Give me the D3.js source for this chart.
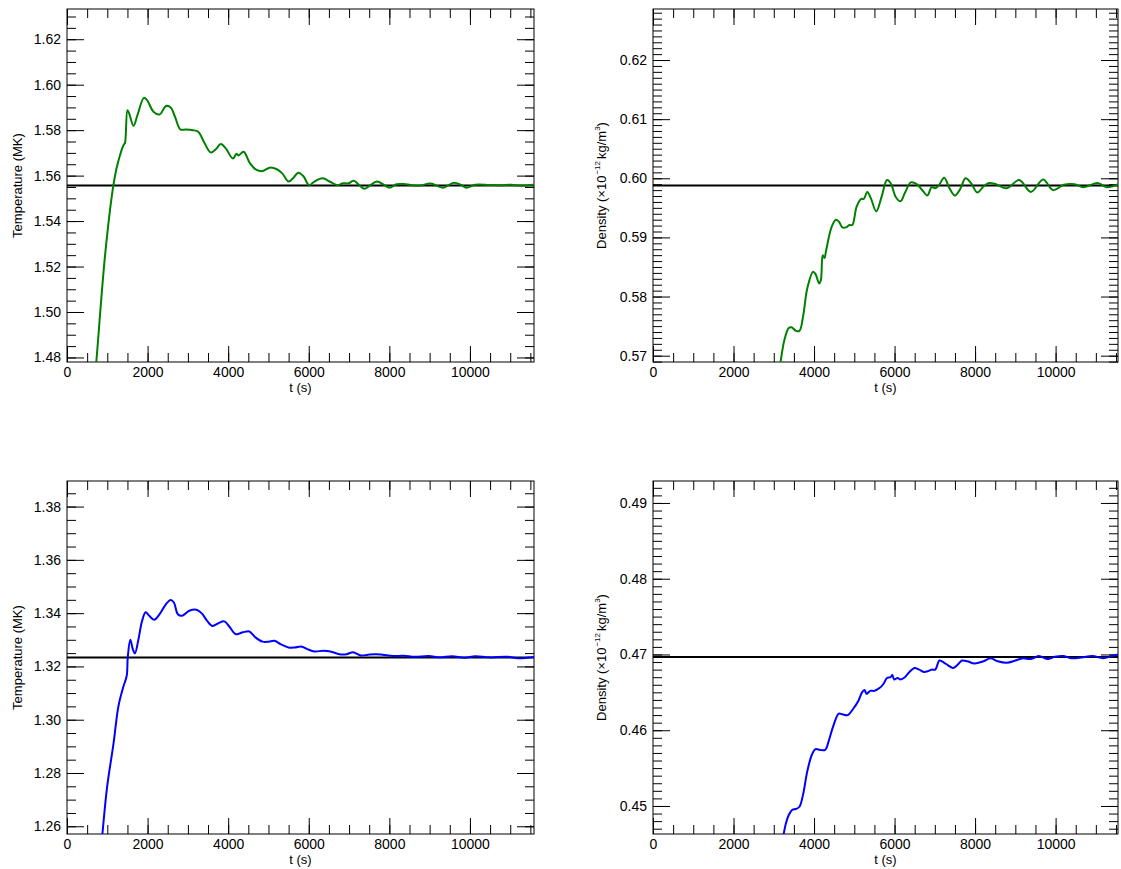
<!DOCTYPE html>
<html><head><meta charset="utf-8">
<script src="https://cdn.jsdelivr.net/npm/d3@7"></script>
<style>
html,body{margin:0;padding:0;background:#fff;}
svg text{font-family:"Liberation Sans",Arial,Helvetica,sans-serif;fill:#000;}
</style></head>
<body>
<svg id="chart" width="1121" height="869"></svg>
<script>
// ---------- data ----------
const xMajorTicks = [0, 2000, 4000, 6000, 8000, 10000];

// Top-left: temperature (green)
const tTempA = [600, 728, 950, 1153, 1260, 1411, 1437, 1500, 1544, 1650, 1748, 1908, 1988, 2147, 2298, 2458, 2573, 2680, 2813, 2946, 3123, 3256, 3416, 3567, 3700, 3815, 3940, 4117, 4206, 4260, 4383, 4543, 4703, 4854, 5031, 5208, 5342, 5501, 5608, 5741, 5874, 6007, 6140, 6344, 6540, 6717, 6850, 6983, 7116, 7249, 7382, 7515, 7693, 7870, 8004, 8181, 8358, 8536, 8758, 9024, 9335, 9601, 9778, 9911, 10133, 10488, 10754, 11020, 11287, 11606];
const vTempA = [1.4520, 1.4782, 1.5259, 1.5559, 1.5654, 1.5737, 1.5742, 1.5888, 1.5873, 1.5819, 1.5866, 1.5942, 1.5932, 1.5881, 1.5869, 1.5906, 1.5900, 1.5859, 1.5803, 1.5803, 1.5800, 1.5793, 1.5742, 1.5702, 1.5717, 1.5739, 1.5720, 1.5675, 1.5696, 1.5689, 1.5705, 1.5654, 1.5625, 1.5620, 1.5635, 1.5628, 1.5610, 1.5574, 1.5588, 1.5613, 1.5596, 1.5558, 1.5574, 1.5588, 1.5572, 1.5558, 1.5566, 1.5566, 1.5577, 1.5559, 1.5542, 1.5556, 1.5574, 1.5559, 1.5547, 1.5562, 1.5563, 1.5558, 1.5556, 1.5565, 1.5547, 1.5569, 1.5559, 1.5547, 1.5560, 1.5559, 1.5558, 1.5560, 1.5556, 1.5560];
const refTempA = 1.5557;
const yTicksTempA = [1.48, 1.50, 1.52, 1.54, 1.56, 1.58, 1.60, 1.62];

// Top-right: density (green)
const tDensA = [3050, 3168, 3265, 3372, 3443, 3549, 3638, 3727, 3833, 3975, 4037, 4126, 4170, 4215, 4259, 4303, 4437, 4543, 4614, 4703, 4791, 4880, 4951, 5058, 5173, 5235, 5324, 5413, 5546, 5679, 5812, 5901, 6034, 6149, 6256, 6407, 6549, 6700, 6815, 6921, 7010, 7099, 7232, 7365, 7498, 7631, 7764, 7897, 8057, 8208, 8341, 8518, 8784, 9095, 9388, 9690, 9938, 10204, 10470, 10692, 11047, 11269, 11562];
const vDensA = [0.5630, 0.5689, 0.5727, 0.5747, 0.5748, 0.5742, 0.5742, 0.5766, 0.5814, 0.5842, 0.5838, 0.5822, 0.5828, 0.5870, 0.5865, 0.5879, 0.5918, 0.5930, 0.5927, 0.5917, 0.5917, 0.5921, 0.5921, 0.5952, 0.5965, 0.5965, 0.5977, 0.5966, 0.5944, 0.5969, 0.5997, 0.5992, 0.5968, 0.5961, 0.5975, 0.5993, 0.5990, 0.5979, 0.5971, 0.5985, 0.5983, 0.5988, 0.6001, 0.5983, 0.5971, 0.5982, 0.6000, 0.5992, 0.5976, 0.5986, 0.5992, 0.5990, 0.5983, 0.5997, 0.5977, 0.5998, 0.5980, 0.5989, 0.5990, 0.5985, 0.5992, 0.5985, 0.5990];
const refDensA = 0.59876;
const yTicksDensA = [0.57, 0.58, 0.59, 0.60, 0.61, 0.62];

// Bottom-left: temperature (blue)
const tTempB = [800, 878, 994, 1153, 1278, 1393, 1482, 1508, 1571, 1633, 1686, 1766, 1864, 1952, 2041, 2165, 2298, 2458, 2573, 2653, 2751, 2857, 3035, 3212, 3345, 3478, 3611, 3744, 3904, 4028, 4188, 4366, 4526, 4676, 4854, 5004, 5146, 5297, 5501, 5652, 5812, 5963, 6140, 6362, 6540, 6761, 6939, 7098, 7294, 7471, 7649, 7826, 8092, 8358, 8625, 8980, 9246, 9556, 9867, 10133, 10488, 10932, 11198, 11606];
const vTempB = [1.2450, 1.2571, 1.2746, 1.2909, 1.3052, 1.3121, 1.3165, 1.3234, 1.3300, 1.3265, 1.3249, 1.3296, 1.3371, 1.3403, 1.3390, 1.3375, 1.3396, 1.3434, 1.3449, 1.3440, 1.3396, 1.3390, 1.3409, 1.3413, 1.3399, 1.3371, 1.3352, 1.3361, 1.3369, 1.3350, 1.3321, 1.3328, 1.3331, 1.3309, 1.3293, 1.3293, 1.3296, 1.3284, 1.3271, 1.3271, 1.3275, 1.3265, 1.3256, 1.3259, 1.3256, 1.3246, 1.3246, 1.3253, 1.3241, 1.3244, 1.3246, 1.3244, 1.3239, 1.3240, 1.3236, 1.3239, 1.3234, 1.3238, 1.3233, 1.3238, 1.3234, 1.3236, 1.3231, 1.3236];
const refTempB = 1.32338;
const yTicksTempB = [1.26, 1.28, 1.30, 1.32, 1.34, 1.36, 1.38];

// Bottom-right: density (blue)
const tDensB = [3150, 3239, 3301, 3372, 3461, 3549, 3638, 3727, 3833, 3949, 4037, 4153, 4277, 4366, 4481, 4614, 4703, 4836, 4969, 5102, 5191, 5253, 5306, 5395, 5501, 5634, 5723, 5812, 5901, 5945, 5990, 6078, 6149, 6256, 6371, 6496, 6611, 6726, 6833, 6921, 7010, 7117, 7232, 7321, 7454, 7560, 7675, 7808, 7986, 8208, 8385, 8563, 8784, 9006, 9184, 9388, 9583, 9805, 9982, 10204, 10381, 10648, 10914, 11181, 11403, 11562];
const vDensB = [0.4430, 0.4461, 0.4477, 0.4488, 0.4495, 0.4496, 0.4499, 0.4515, 0.4546, 0.4568, 0.4575, 0.4574, 0.4574, 0.4586, 0.4606, 0.4622, 0.4621, 0.4620, 0.4628, 0.4639, 0.4650, 0.4653, 0.4648, 0.4652, 0.4652, 0.4656, 0.4661, 0.4669, 0.4670, 0.4673, 0.4667, 0.4669, 0.4667, 0.4670, 0.4677, 0.4682, 0.4680, 0.4677, 0.4678, 0.4680, 0.4680, 0.4692, 0.4689, 0.4686, 0.4682, 0.4686, 0.4692, 0.4691, 0.4688, 0.4691, 0.4695, 0.4691, 0.4689, 0.4692, 0.4695, 0.4694, 0.4698, 0.4694, 0.4697, 0.4698, 0.4695, 0.4696, 0.4698, 0.4695, 0.4698, 0.4700];
const refDensB = 0.46965;
const yTicksDensB = [0.45, 0.46, 0.47, 0.48, 0.49];

// ---------- layout ----------
const panels = [
  {id:"a", t:tTempA, v:vTempA, ref:refTempA, yt:yTicksTempA, color:"#008000", box:[67,9,534,362], xmax:11590, ydom:[1.4780,1.6333], minorStep:0.005, kind:"T"},
  {id:"b", t:tDensA, v:vDensA, ref:refDensA, yt:yTicksDensA, color:"#008000", box:[653,9,1118,362], xmax:11550, ydom:[0.56893,0.62863], minorStep:0.001, kind:"D"},
  {id:"c", t:tTempB, v:vTempB, ref:refTempB, yt:yTicksTempB, color:"#0000ff", box:[67,481,534,834], xmax:11590, ydom:[1.2571,1.3896], minorStep:0.005, kind:"T"},
  {id:"d", t:tDensB, v:vDensB, ref:refDensB, yt:yTicksDensB, color:"#0000ff", box:[653,481,1118,834], xmax:11550, ydom:[0.4463,0.4929], minorStep:0.001, kind:"D"}
];

const svg = d3.select("#chart");
const defs = svg.append("defs");

panels.forEach(p => {
  const [x0,y0,x1,y1] = p.box;
  const w = x1-x0, h = y1-y0;
  const g = svg.append("g").attr("transform", `translate(${x0},${y0})`);
  const x = d3.scaleLinear().domain([0,p.xmax]).range([0,w]);
  const y = d3.scaleLinear().domain(p.ydom).range([h,0]);

  defs.append("clipPath").attr("id","clip-"+p.id)
    .append("rect").attr("x",0).attr("y",0).attr("width",w).attr("height",h);

  const xMinor = d3.range(0, 24).map(i => i*500).filter(v => v <= p.xmax);
  const n = Math.round((p.ydom[1]-p.ydom[0])/p.minorStep)+3;
  const start = Math.ceil(p.ydom[0]/p.minorStep)*p.minorStep;
  const yMinor = d3.range(0,n).map(i => +(start + i*p.minorStep).toFixed(4)).filter(v => v>=p.ydom[0] && v<=p.ydom[1]);

  const style = sel => { sel.select(".domain").remove(); sel.selectAll("line").attr("stroke","#000").attr("stroke-width",1); sel.selectAll("text").attr("font-size",14).attr("font-family",'"Liberation Sans",Arial,Helvetica,sans-serif').attr("fill","#000"); };

  // minor ticks
  g.append("g").attr("transform",`translate(0,${h})`).call(d3.axisBottom(x).tickValues(xMinor).tickSizeInner(-9).tickSizeOuter(0).tickFormat("")).call(style);
  g.append("g").call(d3.axisTop(x).tickValues(xMinor).tickSizeInner(-9).tickSizeOuter(0).tickFormat("")).call(style);
  g.append("g").call(d3.axisLeft(y).tickValues(yMinor).tickSizeInner(-9).tickSizeOuter(0).tickFormat("")).call(style);
  g.append("g").attr("transform",`translate(${w},0)`).call(d3.axisRight(y).tickValues(yMinor).tickSizeInner(-9).tickSizeOuter(0).tickFormat("")).call(style);

  // major ticks + labels
  g.append("g").attr("transform",`translate(0,${h})`).call(d3.axisBottom(x).tickValues(xMajorTicks).tickSizeInner(-16).tickSizeOuter(0).tickPadding(5).tickFormat(d3.format("d"))).call(style);
  g.append("g").call(d3.axisTop(x).tickValues(xMajorTicks).tickSizeInner(-16).tickSizeOuter(0).tickFormat("")).call(style);
  g.append("g").call(d3.axisLeft(y).tickValues(p.yt).tickSizeInner(-17).tickSizeOuter(0).tickPadding(6).tickFormat(d3.format(".2f"))).call(style);
  g.append("g").attr("transform",`translate(${w},0)`).call(d3.axisRight(y).tickValues(p.yt).tickSizeInner(-17).tickSizeOuter(0).tickFormat("")).call(style);

  // frame
  g.append("rect").attr("x",0).attr("y",0).attr("width",w).attr("height",h)
    .attr("fill","none").attr("stroke","#000").attr("stroke-width",1);

  const plot = g.append("g").attr("clip-path",`url(#clip-${p.id})`);
  // reference line
  plot.append("line").attr("x1",x(0)).attr("x2",x(p.xmax)).attr("y1",y(p.ref)).attr("y2",y(p.ref))
    .attr("stroke","#000").attr("stroke-width",2);
  // curve
  const data = p.t.map((t,i)=>[t,p.v[i]]);
  plot.append("path").datum(data)
    .attr("d", d3.line().x(d=>x(d[0])).y(d=>y(d[1])).curve(d3.curveCatmullRom.alpha(0.5)))
    .attr("fill","none").attr("stroke",p.color).attr("stroke-width",2);

  // x title
  g.append("text").attr("x",w/2).attr("y",h+29.5).attr("text-anchor","middle").attr("font-size",13).text("t (s)");

  // y title
  const yt = g.append("text").attr("text-anchor","middle").attr("font-size",13)
    .attr("transform",`translate(${p.kind==="T"? -50 : -52},${h/2}) rotate(-90)`)
    .attr("dy","0.35em");
  if (p.kind==="T") {
    yt.text("Temperature (MK)");
  } else {
    yt.append("tspan").text("Density (\u00d710");
    yt.append("tspan").attr("font-size",8).attr("dy",-6).attr("dx",1).text("\u221212");
    yt.append("tspan").attr("dy",6).attr("dx",2).text("kg/m");
    yt.append("tspan").attr("font-size",8).attr("dy",-6).text("3");
    yt.append("tspan").attr("dy",6).text(")");
  }
});
</script>
</body></html>
